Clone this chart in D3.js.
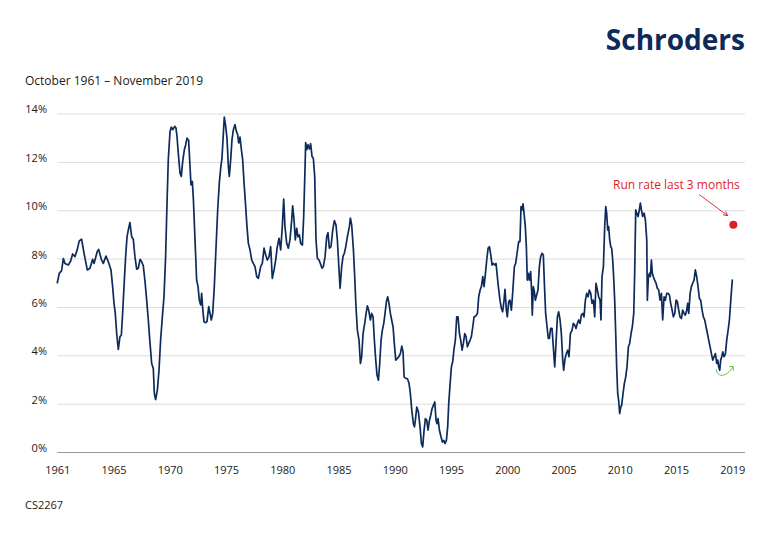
<!DOCTYPE html>
<html>
<head>
<meta charset="utf-8">
<script src="https://cdn.jsdelivr.net/npm/d3@7"></script>
<style>
  html, body { margin: 0; padding: 0; background: #fff; }
  svg { display: block; font-family: "Open Sans", "Noto Sans", sans-serif; }
</style>
</head>
<body>
<svg id="chart" width="770" height="534"></svg>
<script>
// ---------- data ----------
const dates = [
1961.75,1961.92,1962.12,1962.27,1962.41,1962.70,1962.90,1963.07,1963.27,1963.47,1963.64,1963.84,1964.05,1964.33,1964.56,1964.79,1964.91,
1965.19,1965.31,1965.54,1965.71,1965.94,1966.14,1966.37,1966.51,1966.63,1966.74,1966.86,1967.00,1967.14,1967.26,1967.37,1967.52,1967.63,
1967.75,1967.86,1968.00,1968.15,1968.29,1968.43,1968.58,1968.72,1968.87,1969.01,1969.15,1969.30,1969.44,1969.58,1969.73,1969.87,1970.01,
1970.10,1970.21,1970.36,1970.50,1970.64,1970.79,1970.93,1971.07,1971.19,1971.30,1971.45,1971.56,1971.68,1971.85,1971.96,1972.05,1972.16,
1972.31,1972.42,1972.54,1972.68,1972.80,1972.91,1973.05,1973.17,1973.25,1973.37,1973.46,1973.60,1973.74,1973.86,1973.97,1974.09,1974.17,
1974.26,1974.37,1974.52,1974.63,1974.78,1974.89,1975.00,1975.12,1975.26,1975.41,1975.55,1975.69,1975.81,1975.92,1976.04,1976.12,1976.24,
1976.35,1976.47,1976.55,1976.67,1976.78,1976.90,1977.04,1977.16,1977.27,1977.36,1977.47,1977.59,1977.70,1977.82,1977.96,1978.07,1978.19,
1978.33,1978.48,1978.62,1978.76,1978.91,1979.05,
1979.25,1979.39,1979.54,1979.68,1979.82,1979.97,1980.11,1980.25,1980.40,1980.54,1980.68,1980.83,1980.97,1981.11,1981.23,1981.34,1981.49,
1981.63,1981.77,1981.92,1982.00,1982.12,1982.23,1982.35,1982.46,1982.58,1982.69,1982.84,1982.95,1983.07,1983.12,1983.21,1983.32,1983.44,
1983.55,1983.67,1983.78,1983.90,1984.01,1984.13,1984.27,1984.38,1984.53,1984.64,1984.79,1984.93,1985.04,1985.16,1985.30,1985.45,1985.59,
1985.73,1985.85,1985.96,1986.08,1986.22,1986.34,1986.45,1986.57,1986.71,1986.88,1986.97,1987.08,1987.23,1987.34,1987.45,1987.57,1987.71,
1987.83,1987.94,1988.06,1988.20,1988.32,1988.43,1988.54,1988.69,1988.80,1988.92,1989.03,1989.15,1989.26,1989.38,1989.49,1989.61,1989.72,
1989.84,1989.95,1990.07,1990.18,1990.29,1990.41,1990.52,1990.64,1990.75,1990.87,1991.01,1991.13,1991.27,1991.39,1991.50,1991.59,1991.73,
1991.87,1992.02,1992.13,1992.25,1992.39,1992.48,1992.56,1992.68,1992.82,1992.96,1993.08,1993.19,1993.31,1993.42,1993.54,1993.65,1993.77,
1993.88,1994.00,1994.11,1994.23,1994.34,1994.43,1994.51,1994.63,1994.77,1994.89,1995.00,1995.11,1995.23,1995.34,1995.43,1995.55,1995.66,
1995.77,1995.89,1996.00,1996.12,1996.23,1996.35,1996.46,1996.58,1996.69,1996.81,1996.92,1997.04,1997.15,1997.27,1997.38,1997.50,1997.61,
1997.75,1997.90,1998.01,1998.13,1998.24,1998.36,1998.47,1998.59,1998.70,1998.82,1998.93,1999.05,1999.16,1999.27,1999.42,1999.50,
1999.70,1999.84,1999.96,2000.07,2000.19,2000.27,2000.39,2000.47,2000.59,2000.70,2000.82,2000.93,2001.08,2001.19,2001.31,2001.45,2001.56,
2001.65,2001.74,2001.82,2001.91,2002.02,2002.11,2002.19,2002.28,2002.37,2002.48,2002.57,2002.62,2002.71,2002.80,2002.88,2003.00,2003.11,
2003.23,2003.34,2003.46,2003.57,2003.66,2003.77,2003.89,2004.00,2004.09,2004.20,2004.32,2004.43,2004.55,2004.66,2004.78,2004.89,2005.01,
2005.12,2005.24,2005.32,2005.44,2005.55,2005.67,2005.78,2005.90,2006.04,2006.15,2006.27,2006.38,2006.50,2006.61,2006.73,2006.84,2006.96,
2007.07,2007.19,2007.30,2007.42,2007.53,2007.65,2007.76,2007.88,2007.99,2008.10,2008.22,2008.33,2008.45,2008.53,2008.62,2008.74,2008.85,
2008.94,2009.02,2009.11,2009.19,2009.28,2009.37,2009.45,2009.54,2009.62,2009.71,2009.80,2009.88,2009.97,2010.05,2010.14,2010.23,2010.31,
2010.43,2010.54,2010.66,2010.77,2010.89,2011.00,2011.12,2011.23,2011.35,2011.43,2011.52,2011.60,2011.72,2011.83,2011.92,2012.01,2012.12,
2012.24,2012.35,2012.47,2012.52,2012.61,2012.70,2012.78,2012.87,2012.95,2013.04,2013.15,2013.27,2013.38,2013.50,2013.61,2013.73,2013.84,
2013.96,2014.07,2014.19,2014.30,2014.42,2014.53,2014.65,2014.76,2014.88,2014.99,2015.10,2015.22,2015.33,2015.45,2015.56,2015.68,2015.79,
2015.91,2015.99,2016.08,2016.20,2016.31,2016.42,2016.54,2016.65,2016.77,2016.88,2017.00,2017.11,2017.23,2017.34,2017.46,2017.57,2017.69,
2017.80,2017.92,2018.03,2018.15,2018.26,2018.38,2018.49,2018.58,2018.66,2018.75,2018.83,2018.92,2019.01,2019.12,2019.24,2019.35,2019.47,
2019.58,2019.70,2019.83
];
const rates = [
7.0,7.39,7.5,8.0,7.8,7.73,7.9,8.19,8.08,8.38,8.73,8.8,8.22,7.53,7.6,7.97,7.8,
8.29,8.38,7.97,7.8,8.1,7.87,7.53,6.84,6.15,5.73,4.9,4.24,4.77,4.83,5.73,7.11,8.08,
8.9,9.18,9.49,8.9,8.8,8.08,7.56,7.6,7.97,7.87,7.7,7.04,6.28,5.46,4.49,3.66,3.45,
2.42,2.17,2.56,3.38,4.63,5.59,6.42,8.08,10.29,12.09,13.26,13.44,13.33,13.47,13.4,13.05,12.36,
11.53,11.4,12.02,12.5,12.71,12.98,12.89,11.81,11.05,11.19,10.43,8.77,7.11,6.84,6.28,6.08,6.56,
5.94,5.39,5.35,5.39,6.01,5.73,5.46,5.73,6.84,8.49,10.01,11.12,11.74,12.15,13.19,13.85,13.47,
12.98,11.81,11.4,12.09,12.91,13.33,13.54,13.26,13.12,12.78,13.02,12.5,12.09,11.12,10.15,9.32,8.63,
8.36,7.94,7.8,7.67,7.25,7.18,
7.67,7.8,8.43,8.15,7.94,8.08,8.49,7.18,7.53,7.94,8.49,8.84,8.36,9.32,10.46,9.32,8.63,
8.43,8.77,9.6,10.18,9.6,8.77,9.25,8.9,8.98,8.63,8.56,9.74,11.81,12.8,12.5,12.71,12.53,
12.75,12.22,12.15,11.4,8.77,8.01,7.94,7.8,7.6,7.67,8.08,8.9,9.07,8.43,8.49,9.18,9.57,
9.39,8.77,7.8,6.77,7.67,8.1,8.22,8.49,8.9,9.32,9.67,9.39,8.36,7.25,6.01,5.04,4.63,
3.66,3.94,4.9,5.32,5.73,6.04,5.87,5.46,5.73,5.59,4.63,3.8,3.18,2.97,3.66,4.63,5.04,
5.32,5.73,6.22,6.42,6.15,5.73,5.46,5.18,4.49,3.8,3.87,3.94,4.07,4.38,4.14,3.11,3.04,
3.04,2.83,2.42,1.73,1.17,1.04,1.31,1.86,1.66,1.04,0.35,0.21,0.9,1.38,1.31,0.9,1.31,
1.52,1.8,1.93,2.07,1.31,1.17,1.38,0.9,0.62,0.41,0.48,0.35,0.48,1.04,2.0,2.83,3.52,
3.73,4.28,4.63,5.59,5.59,4.9,4.63,4.21,4.49,4.9,4.77,4.35,4.49,4.63,4.77,5.18,5.59,
5.62,5.73,6.42,6.7,6.84,7.25,6.84,7.39,7.94,8.43,8.49,8.15,7.73,7.8,7.73,7.8,
6.84,6.28,5.94,5.8,6.28,6.73,5.87,5.59,6.22,6.28,5.87,6.56,7.67,7.8,8.22,8.7,8.7,
10.15,10.01,10.26,9.88,9.32,8.49,7.11,7.39,7.11,7.46,6.56,5.66,6.84,6.63,6.28,6.49,6.7,
7.67,8.08,8.22,8.15,6.98,5.73,5.18,4.7,4.7,5.11,5.11,4.35,3.52,4.49,5.59,5.8,5.46,
4.9,3.8,3.38,3.87,4.07,4.21,3.94,4.9,5.04,5.32,5.25,5.11,5.32,5.46,5.32,5.66,5.73,
5.59,6.28,6.56,6.42,6.7,6.56,6.15,6.28,5.59,6.98,6.7,6.42,6.28,5.46,7.25,7.67,9.32,
10.15,9.88,9.18,9.32,8.77,8.49,8.43,7.94,7.25,6.28,4.9,3.52,2.42,2.14,1.59,1.86,1.93,
2.42,2.83,3.11,3.52,4.35,4.49,4.9,5.18,5.73,7.39,10.01,9.88,9.74,10.01,10.29,10.01,9.74,
9.88,9.6,8.77,6.28,7.25,7.39,7.25,7.94,7.39,7.25,7.11,6.98,6.77,6.7,6.28,6.56,5.46,
6.42,6.28,6.56,6.56,6.49,6.15,5.87,5.59,5.73,6.28,6.22,5.87,5.59,5.52,5.87,5.73,5.66,
5.87,6.15,5.73,6.56,6.84,6.98,7.11,7.53,7.25,6.84,6.35,6.28,5.87,5.59,5.46,5.18,4.9,
4.63,4.35,4.07,3.8,3.94,4.07,3.66,3.8,3.52,3.38,3.8,3.94,4.14,3.94,4.07,4.63,5.04,
5.46,6.28,7.11
];
const xTickLabels = ["1961","1965","1970","1975","1980","1985","1990","1995","2000","2005","2010","2015","2019"];
const yTicks = [0, 2, 4, 6, 8, 10, 12, 14];
const runRateDate = 2019.92;
const runRateValue = 9.4;
const troughDate = 2018.75;
const troughValue = 3.38;
const titleText = "October 1961 \u2013 November 2019";
const annotationText = "Run rate last 3 months";
const sourceCode = "CS2267";
const brand = "Schroders";

// ---------- layout ----------
const W = 770, H = 534;
const plotLeft = 57.3, plotRight = 732.3, gridRight = 745;
const yTop = 113.5, yBottom = 452;
const navy = "#0d2b5a", red = "#dc1e2b", green = "#6cc04a";

const svg = d3.select("#chart");
svg.append("rect").attr("width", W).attr("height", H).attr("fill", "#fff");

const x = d3.scaleLinear().domain([dates[0], dates[dates.length - 1]]).range([plotLeft, plotRight]);
const y = d3.scaleLinear().domain([0, 14]).range([yBottom, yTop]);
const xLabels = d3.scalePoint().domain(xTickLabels).range([plotLeft, plotRight]);

// gridlines
svg.append("g").selectAll("line").data(yTicks).join("line")
  .attr("x1", plotLeft).attr("x2", gridRight)
  .attr("y1", d => y(d) + 0.5).attr("y2", d => y(d) + 0.5)
  .attr("stroke", d => d === 0 ? "#9a9a9a" : "#dcdcdc")
  .attr("stroke-width", 1);

// y axis labels
const yAxis = svg.append("g").attr("transform", `translate(${47},0)`)
  .call(d3.axisLeft(y).tickValues(yTicks).tickSize(0).tickPadding(0).tickFormat(d => d + "%"));
yAxis.select(".domain").remove();
yAxis.selectAll("text")
  .attr("font-family", "'Open Sans', sans-serif").attr("font-size", 11)
  .attr("fill", "#1a1a1a").attr("dy", "-0.05em").attr("x", 0);

// x axis labels
const xAxis = svg.append("g").attr("transform", `translate(0,${466})`)
  .call(d3.axisBottom(xLabels).tickSize(0).tickPadding(0));
xAxis.select(".domain").remove();
xAxis.selectAll("text")
  .attr("font-family", "'Open Sans', sans-serif").attr("font-size", 11)
  .attr("fill", "#1a1a1a");

// line
const series = dates.map((d, i) => ({ date: d, value: rates[i] }));
svg.append("path").datum(series)
  .attr("fill", "none").attr("stroke", navy).attr("stroke-width", 1.7)
  .attr("stroke-linejoin", "round").attr("stroke-linecap", "round")
  .attr("d", d3.line().x(d => x(d.date)).y(d => y(d.value)));

// run-rate dot and annotation
const dx = x(runRateDate), dy = y(runRateValue);
svg.append("circle").attr("cx", dx).attr("cy", dy).attr("r", 4).attr("fill", red);
svg.append("text").attr("x", dx + 6.5).attr("y", dy - 36)
  .attr("text-anchor", "end").attr("font-size", 12).attr("fill", red)
  .text(annotationText);
const ax1 = dx - 34, ay1 = dy - 30, ax2 = dx - 5.5, ay2 = dy - 9;
const ang = Math.atan2(ay2 - ay1, ax2 - ax1);
svg.append("line").attr("x1", ax1).attr("y1", ay1).attr("x2", ax2).attr("y2", ay2)
  .attr("stroke", red).attr("stroke-width", 0.9);
svg.append("path")
  .attr("d", `M${ax2 - 5 * Math.cos(ang - 0.45)},${ay2 - 5 * Math.sin(ang - 0.45)} L${ax2},${ay2} L${ax2 - 5 * Math.cos(ang + 0.45)},${ay2 - 5 * Math.sin(ang + 0.45)}`)
  .attr("fill", "none").attr("stroke", red).attr("stroke-width", 0.9);

// green curved arrow under the trough
const tx = x(troughDate), ty = y(troughValue);
svg.append("path")
  .attr("d", `M${tx - 3.5},${ty - 1} C${tx - 2.5},${ty + 7} ${tx + 6},${ty + 8} ${tx + 13.5},${ty - 3.5}`)
  .attr("fill", "none").attr("stroke", green).attr("stroke-width", 1);
svg.append("path")
  .attr("d", `M${tx + 9.5},${ty - 3.7} L${tx + 13.5},${ty - 3.7} L${tx + 13.6},${ty + 0.3}`)
  .attr("fill", "none").attr("stroke", green).attr("stroke-width", 1);

// texts
svg.append("text").attr("x", 745).attr("y", 49.5).attr("text-anchor", "end")
  .attr("font-family", "'Open Sans', sans-serif").attr("font-weight", 700)
  .attr("font-size", 28).attr("fill", navy).text(brand);
svg.append("text").attr("x", 25).attr("y", 85).attr("font-size", 12).attr("fill", "#1a1a1a").text(titleText);
svg.append("text").attr("x", 25).attr("y", 509).attr("font-size", 11).attr("fill", "#1a1a1a").text(sourceCode);
</script>
</body>
</html>
